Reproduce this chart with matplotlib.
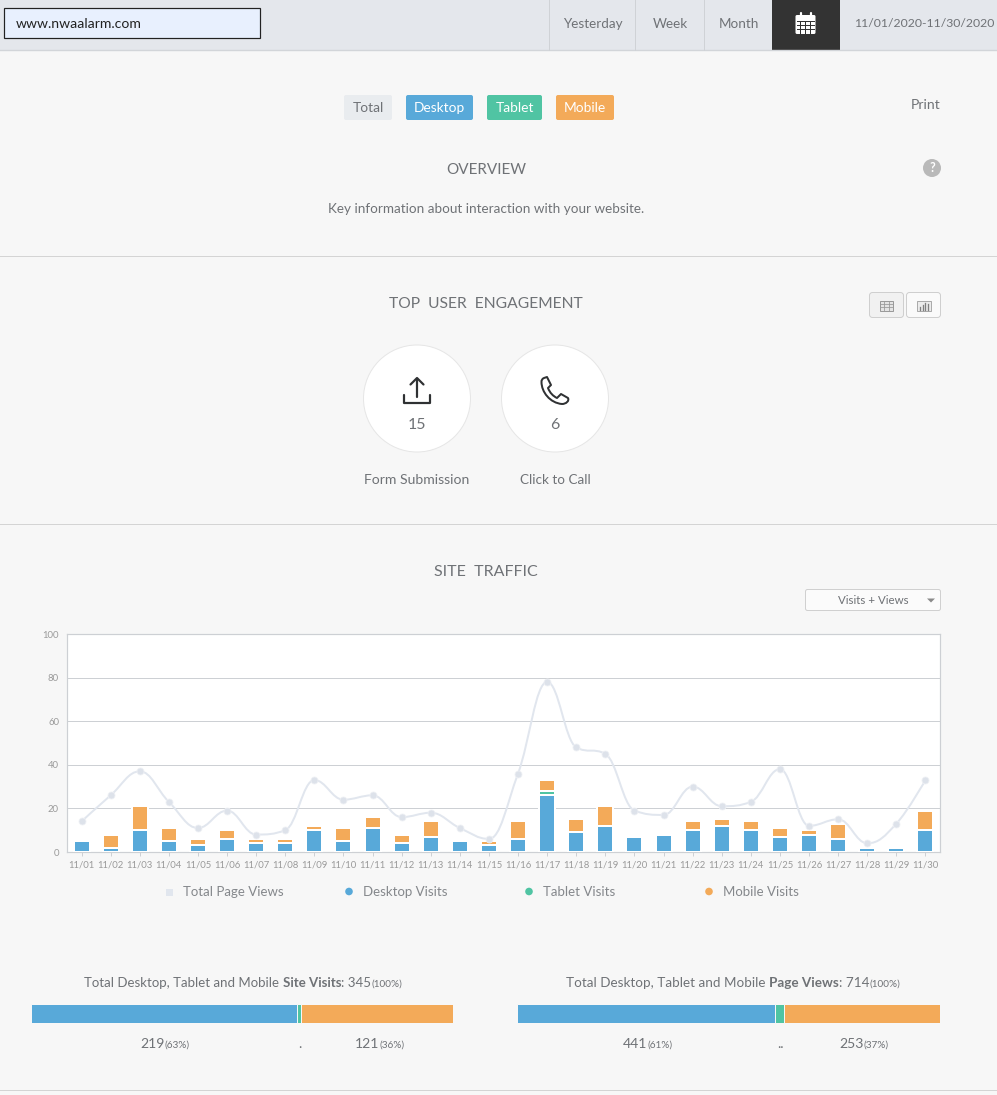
import numpy as np
import matplotlib
matplotlib.use("Agg")
import matplotlib.pyplot as plt
from matplotlib.patches import FancyBboxPatch, Rectangle, Circle, PathPatch, Polygon
from matplotlib.path import Path

# ---------- data ----------
days = [f"11/{d:02d}" for d in range(1, 31)]
total_views = [14, 26, 37, 23, 11, 19, 8, 10, 33, 24, 26, 16, 18, 11, 6,
               36, 78, 48, 45, 19, 17, 30, 21, 23, 38, 12, 15, 4, 13, 33]
desktop = [5, 2, 10, 5, 3, 6, 4, 4, 10, 5, 11, 4, 7, 5, 3,
           6, 26, 9, 12, 7, 8, 10, 12, 10, 7, 8, 6, 2, 2, 10]
tablet = [0, 0, 0, 0, 0, 0, 0, 0, 0, 0, 0, 0, 0, 0, 0,
          0, 2, 0, 0, 0, 0, 0, 0, 0, 0, 0, 0, 0, 0, 0]
mobile = [0, 6, 11, 6, 3, 4, 2, 2, 2, 6, 5, 4, 7, 0, 2,
          8, 5, 6, 9, 0, 0, 4, 3, 4, 4, 2, 7, 0, 0, 9]
yticks = [0, 20, 40, 60, 80, 100]
visit_shares = [63, 1, 36]
view_shares = [61, 2, 37]

BLUE, GREEN, ORANGE = "#58a9d9", "#50c4a3", "#f3aa59"
LINE = "#e1e6ee"
TXT = "#6f7276"
FONT = "Lato"
plt.rcParams["font.family"] = [FONT, "DejaVu Sans"]

W, H = 997, 1095
fig = plt.figure(figsize=(W / 100, H / 100), dpi=100, facecolor="#f7f7f7")
bg = fig.add_axes([0, 0, 1, 1], zorder=0)
bg.set_xlim(0, W)
bg.set_ylim(H, 0)
bg.axis("off")


def px(v):
    return v * 0.72


def T(x, y, s, size=14, color=TXT, ha="center", **kw):
    return bg.text(x, y + 1, s, fontsize=px(size), color=color, ha=ha, va="center", **kw)


def box(x0, y0, x1, y1, fc, ec="none", r=2, lw=1):
    bg.add_patch(FancyBboxPatch((x0 + r, y0 + r), x1 - x0 - 2 * r, y1 - y0 - 2 * r,
                                boxstyle=f"round,pad={r},rounding_size={r}",
                                fc=fc, ec=ec, lw=px(lw)))


def rich(parts, x, y, anchor="center"):
    """Chain (text, size, weight) pieces on one baseline."""
    r = fig.canvas.get_renderer()
    arts = [bg.text(0, y, s, fontsize=px(sz), fontweight=w, color=TXT, ha="left", va="baseline")
            for s, sz, w in parts]
    widths = [a.get_window_extent(r).width for a in arts]
    cur = x - sum(widths) / 2 if anchor == "center" else x
    for a, w in zip(arts, widths):
        a.set_x(cur)
        cur += w


# ---------- header ----------
bg.add_patch(Rectangle((0, 0), W, 50, fc="#e4e7ec", ec="none"))
bg.plot([0, W], [49.6, 49.6], color="#d2d5d9", lw=1)
bg.add_patch(Rectangle((3.6, 7.6), 256.8, 30, fc="#e8f0fe", ec="#222222", lw=px(1.2)))
T(16, 22.5, "www.nwaalarm.com", 14, "#222222", ha="left")
for xs in [548.6, 634.6, 703.6]:
    bg.plot([xs, xs], [0, 50], color="#cfd2d6", lw=px(1))
T(592.5, 22.5, "Yesterday", 13.5)
T(670, 22.5, "Week", 13.5)
T(738.5, 22.5, "Month", 13.5)
T(924, 22.5, "11/01/2020-11/30/2020", 12.2)
bg.add_patch(Rectangle((772, 0), 68, 50, fc="#333333", ec="none"))
# calendar icon
box(795.5, 15, 815.5, 34, "white", r=1.5)
for gx in [800.3, 805.3, 810.3]:
    bg.plot([gx, gx], [21, 32.5], color="#333333", lw=px(1))
for gy in [21, 25, 29]:
    bg.plot([797, 814], [gy, gy], color="#333333", lw=px(1))
for gx in [800.5, 810.5]:
    bg.plot([gx, gx], [13, 18], color="white", lw=px(2.2), solid_capstyle="round")

# ---------- overview ----------
for x0, x1, fc, col, lab in [(344, 392, "#e9ecef", TXT, "Total"),
                             (406, 473, BLUE, "white", "Desktop"),
                             (487, 542, GREEN, "white", "Tablet"),
                             (556, 614, ORANGE, "white", "Mobile")]:
    box(x0, 95, x1, 120, fc)
    T((x0 + x1) / 2, 107.5, lab, 13.8, col)
T(926, 104, "Print", 14)
T(486, 168.5, "OVERVIEW", 15.2)
T(486, 208, "Key information about interaction with your website.", 13.5)
bg.add_patch(Circle((932, 168), 9, fc="#b9b9b9", ec="none"))
T(932, 167, "?", 12.5, "white", fontweight="bold")
for yy in [255.6, 523.6, 1089.6]:
    bg.plot([0, W], [yy, yy], color="#d4d4d4", lw=px(1))

# ---------- engagement ----------
T(486, 302.5, "TOP  USER  ENGAGEMENT", 15.6)
box(869.5, 292.5, 903.5, 317.5, "#f1f1f1", ec="#cfcfcf", r=3)
box(906.5, 292.5, 940.5, 317.5, "#fafafa", ec="#cfcfcf", r=3)
bg.add_patch(Rectangle((880, 300.5), 12.5, 10, fc="#e4e4e4", ec="#9a9a9a", lw=px(1)))
for gx in [884, 888.5]:
    bg.plot([gx, gx], [300.5, 310.5], color="#9a9a9a", lw=px(0.8))
for gy in [303.5, 307]:
    bg.plot([880, 892.5], [gy, gy], color="#9a9a9a", lw=px(0.8))
bg.add_patch(Rectangle((917, 300.5), 13.5, 10, fc="#ececec", ec="#9a9a9a", lw=px(0.8)))
for gx, top in [(920, 307), (922.5, 305), (925, 302.5), (927.5, 304)]:
    bg.plot([gx, gx], [top, 310], color="#808080", lw=px(1.3))
for cx in [417, 555]:
    bg.add_patch(Circle((cx, 398.5), 53.5, fc="white", ec="#e6e6e6", lw=px(1)))
# upload icon
dark = "#2f3133"
bg.plot([417, 417], [379, 396.5], color=dark, lw=px(2.2), solid_capstyle="round")
bg.plot([410.5, 417, 423.5], [384.5, 378, 384.5], color=dark, lw=px(2.2),
        solid_capstyle="round", solid_joinstyle="round")
bg.plot([404.3, 404.3, 429.7, 429.7], [394.5, 403, 403, 394.5], color=dark, lw=px(2.2),
        solid_capstyle="round", solid_joinstyle="round")
# phone icon
MV, CV, LN, CL = Path.MOVETO, Path.CURVE4, Path.LINETO, Path.CLOSEPOLY
phone = Path([(544, 378), (547, 377), (551, 385), (548, 388), (550, 393), (553, 396), (557, 398),
              (561, 394), (568, 398), (569.5, 401), (566, 404), (562, 404), (550, 403), (541.5, 392),
              (541.5, 382), (541.5, 380), (542, 379), (544, 378), (544, 378)],
             [MV, LN, LN, LN, CV, CV, CV, LN, LN, CV, CV, CV, CV, CV, CV, CV, CV, CV, CL])
bg.add_patch(PathPatch(phone, fc="none", ec=dark, lw=px(2), joinstyle="round"))
T(417, 424, "15", 16)
T(555, 424, "6", 16)
T(417, 479, "Form Submission", 14)
T(555, 479, "Click to Call", 13.5)

# ---------- site traffic ----------
T(486, 570.5, "SITE  TRAFFIC", 16)
box(805.5, 589.5, 940.5, 610.5, "#fbfbfb", ec="#d0d0d0", r=2)
T(873, 600, "Visits + Views", 11.5)
bg.add_patch(Polygon([(927, 598.5), (935, 598.5), (931, 602.5)], fc="#8a8a8a", ec="none"))

ax = fig.add_axes([67 / W, 1 - 852 / H, (940 - 67) / W, (852 - 634) / H], zorder=2, facecolor="white")
x = np.arange(len(days))
d, t, m = map(np.array, (desktop, tablet, mobile))
bw = 0.55
edge = dict(edgecolor="white", linewidth=px(2), zorder=3)
ax.bar(x, d, bw, color=BLUE, **edge)
ax.bar(x[t > 0], t[t > 0], bw, bottom=d[t > 0], color=GREEN, **edge)
ax.bar(x[m > 0], m[m > 0], bw, bottom=(d + t)[m > 0], color=ORANGE, **edge)


def spline_path(xs, ys, smoothing=1.5, denom=2.5):
    """Same smoothing as a web-chart spline: cubic segments through each value."""
    n = len(xs)
    verts, codes = [(xs[0], ys[0])], [Path.MOVETO]
    right = (xs[0], ys[0])
    for i in range(1, n):
        xi, yi = xs[i], ys[i]
        if i < n - 1:
            lx, ly = (smoothing * xi + xs[i - 1]) / denom, (smoothing * yi + ys[i - 1]) / denom
            rx, ry = (smoothing * xi + xs[i + 1]) / denom, (smoothing * yi + ys[i + 1]) / denom
            corr = (ry - ly) * (rx - xi) / (rx - lx) + yi - ry
            ly += corr
            ry += corr
            if ly > ys[i - 1] and ly > yi:
                ly = max(ys[i - 1], yi); ry = 2 * yi - ly
            elif ly < ys[i - 1] and ly < yi:
                ly = min(ys[i - 1], yi); ry = 2 * yi - ly
            if ry > ys[i + 1] and ry > yi:
                ry = max(ys[i + 1], yi); ly = 2 * yi - ry
            elif ry < ys[i + 1] and ry < yi:
                ry = min(ys[i + 1], yi); ly = 2 * yi - ry
        else:
            lx, ly = xi, yi
            rx, ry = xi, yi
        verts += [right, (lx, ly), (xi, yi)]
        codes += [Path.CURVE4] * 3
        right = (rx, ry)
    return Path(verts, codes)


ax.add_patch(PathPatch(spline_path(list(map(float, x)), list(map(float, total_views))),
                       fc="none", ec=LINE, lw=px(2), zorder=4))
ax.plot(x, total_views, ls="none", marker="o", ms=px(7), mfc="#dde2ea", mec="#eef0f4", mew=px(0.8), zorder=5)

ax.set_xlim(-0.5, 29.5)
ax.set_ylim(0, 100)
ax.set_yticks(yticks)
ax.set_xticks(x, days)
ax.grid(axis="y", color="#cdd0d4", lw=px(1))
ax.set_axisbelow(True)
for s in ax.spines.values():
    s.set_color("#cdd0d4")
    s.set_linewidth(px(1.2))
ax.tick_params(axis="y", length=0, labelsize=px(9.5), labelcolor="#9a9a9a", pad=px(8))
ax.tick_params(axis="x", length=px(4), width=px(1), color="#cdd0d4",
               labelsize=px(9.5), labelcolor="#9a9a9a", pad=px(4))

# legend
bg.add_patch(Rectangle((166, 888.5), 7, 7, fc=LINE, ec="none"))
T(183, 891.5, "Total Page Views", 13.2, "#85888c", ha="left")
for cx, col, lab in [(349, BLUE, "Desktop Visits"), (529, GREEN, "Tablet Visits"), (709, ORANGE, "Mobile Visits")]:
    bg.add_patch(Circle((cx, 891.5), 3.8, fc=col, ec="none"))
    T(cx + 13.5, 891.5, lab, 13.2, "#85888c", ha="left")

# ---------- totals ----------
rich([("Total Desktop, Tablet and Mobile ", 13.3, "normal"), ("Site Visits", 13.3, "bold"),
      (": 345", 13.3, "normal"), ("(100%)", 10, "normal")], 243, 987)
rich([("Total Desktop, Tablet and Mobile ", 13.5, "normal"), ("Page Views", 13.5, "bold"),
      (": 714", 13.5, "normal"), ("(100%)", 10, "normal")], 733, 987)


def share_bar(x0, x1, shares):
    a = fig.add_axes([(x0 - 0.6) / W, 1 - 1023.4 / H, (x1 - x0 + 1) / W, 19.6 / H], zorder=2)
    a.axis("off")
    a.set_xlim(0, 100)
    a.set_ylim(0, 1)
    left = 0
    for v, c in zip(shares, (BLUE, GREEN, ORANGE)):
        a.barh(0.5, v, 1, left=left, color=c, edgecolor="#f7f7f7", linewidth=px(1))
        left += v


share_bar(32, 453, visit_shares)
share_bar(518, 940, view_shares)

rich([("219", 14, "normal"), (f"({visit_shares[0]}%)", 10, "normal")], 140.5, 1047.5, "left")
T(299.5, 1042.5, ".", 14)
rich([("121", 14, "normal"), (f"({visit_shares[2]}%)", 10, "normal")], 355, 1047.5, "left")
rich([("441", 14, "normal"), (f"({view_shares[0]}%)", 10, "normal")], 623, 1047.5, "left")
T(780, 1042.5, "..", 14)
rich([("253", 14, "normal"), (f"({view_shares[2]}%)", 10, "normal")], 839, 1047.5, "left")

fig.savefig("out.png", dpi=100, facecolor=fig.get_facecolor())
